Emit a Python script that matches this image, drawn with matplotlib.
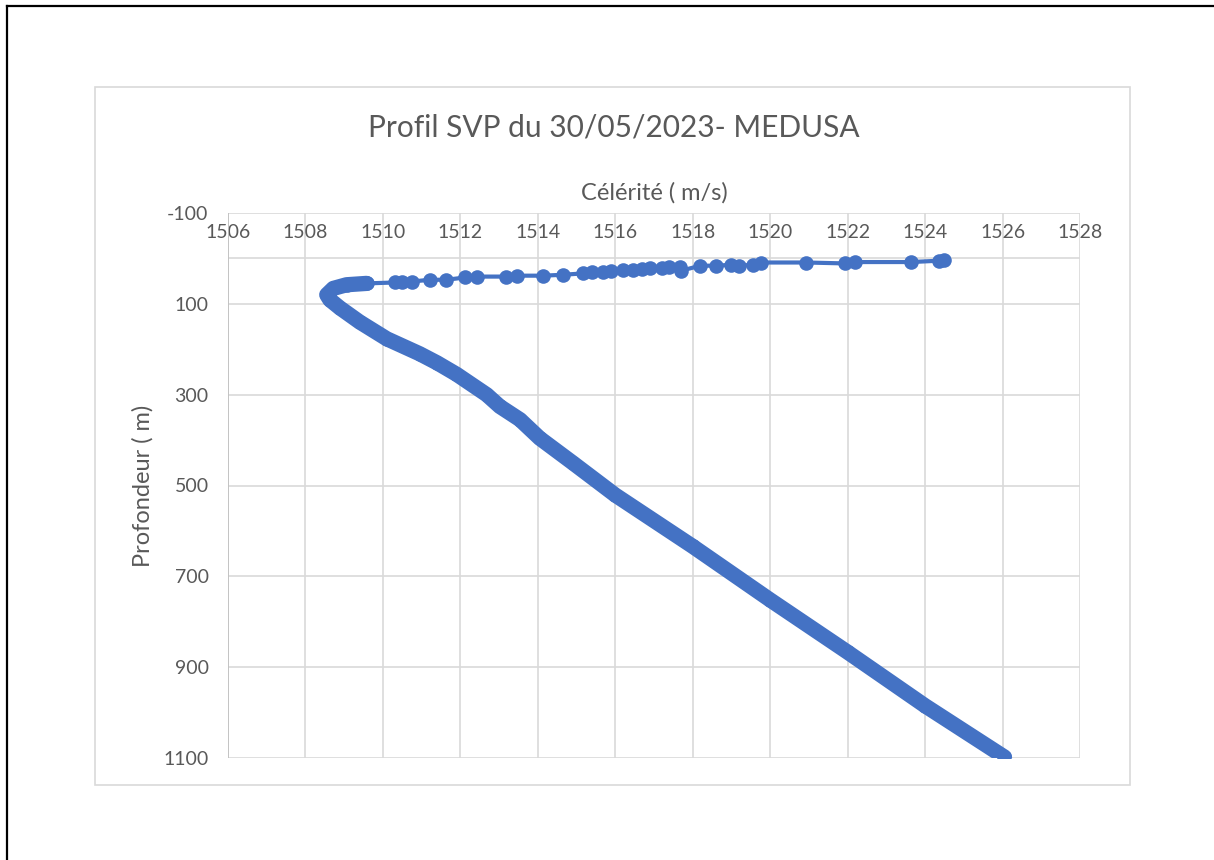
import matplotlib
matplotlib.use("Agg")
import matplotlib.pyplot as plt
from matplotlib.lines import Line2D
from matplotlib.patches import Rectangle

plt.rcParams['font.family'] = ['Lato', 'DejaVu Sans']
plt.rcParams['axes.unicode_minus'] = False

# surface layer: individual casts, spread out
surface_speed = [1524.50, 1524.37, 1523.64, 1522.18, 1521.92, 1520.93, 1519.77, 1519.55,
                 1519.20, 1519.00, 1518.60, 1518.20, 1517.70, 1517.66, 1517.40, 1517.20,
                 1516.90, 1516.70, 1516.46, 1516.20, 1515.90, 1515.69, 1515.40, 1515.17,
                 1514.65, 1514.14, 1513.45, 1513.19, 1512.42, 1512.12, 1511.64, 1511.21,
                 1510.74, 1510.50, 1510.31]
surface_depth = [3, 5, 8, 8, 11, 9, 9, 14,
                 16, 14, 16, 16, 27, 19, 20, 21,
                 22, 23, 25, 25, 27, 29, 31, 33,
                 36, 38, 38, 40, 40, 42, 47, 47,
                 51, 52, 53]

# below the thermocline: dense points, drawn as a continuous band
deep_speed = [1509.58, 1509.06, 1508.72, 1508.55, 1508.63, 1508.89, 1509.40, 1510.10,
              1510.95, 1511.40, 1511.90, 1512.68, 1513.02, 1513.54, 1514.05, 1514.90,
              1516.00, 1518.00, 1520.00, 1522.00, 1524.00, 1526.05]
deep_depth = [55, 58, 66, 80, 91, 109, 140, 177,
              210, 230, 255, 300, 326, 355, 396, 450,
              521, 634, 752, 867, 985, 1098]

x_ticks = list(range(1506, 1529, 2))
y_ticks = list(range(-100, 1101, 200))

blue = '#4472C4'
grid = '#D9D9D9'
txt = '#595959'

fig = plt.figure(figsize=(12.14, 8.60), dpi=100)

# outer frame (top and left edges visible)
fig.add_artist(Line2D([7/1214, 7/1214], [0, 1 - 6/860], color='black', lw=1.6))
fig.add_artist(Line2D([7/1214, 1], [1 - 6/860, 1 - 6/860], color='black', lw=1.6))
# chart area border
fig.add_artist(Rectangle((95/1214, 1 - 785/860), (1130 - 95)/1214, (785 - 87)/860,
                         transform=fig.transFigure, fill=False, ec=grid, lw=1.2))

ax = fig.add_axes([228/1214, 1 - 758/860, (1080 - 228)/1214, (758 - 213)/860])
ax.set_xlim(1506, 1528)
ax.set_ylim(1100, -100)
ax.set_xticks(x_ticks)
ax.set_yticks(y_ticks)
ax.grid(True, color=grid, lw=1.2)
ax.set_axisbelow(True)
for s in ax.spines.values():
    s.set_visible(False)
ax.axhline(0, color=grid, lw=1.2, zorder=1)
ax.axvline(1506, color='#BFBFBF', lw=1.2, zorder=1)

ax.tick_params(axis='x', top=False, bottom=False, labeltop=True, labelbottom=False,
               pad=-20, labelsize=14, labelcolor=txt, length=0)
ax.tick_params(axis='y', left=False, labelsize=14, labelcolor=txt, length=0, pad=14)

all_speed = surface_speed + deep_speed
all_depth = surface_depth + deep_depth
ax.plot(all_speed, all_depth, color=blue, lw=3, zorder=3)
ax.plot(deep_speed, deep_depth, color=blue, lw=11, solid_capstyle='round',
        solid_joinstyle='round', zorder=3)
ax.plot(all_speed, all_depth, 'o', color=blue, ms=10.5, mew=0, zorder=4)

ax.set_xlabel('Célérité ( m/s)', fontsize=17, color=txt)
ax.xaxis.set_label_position('top')
ax.xaxis.set_label_coords(0.5, 1 + 20/545)
ax.xaxis.label.set_va('center')
ax.set_ylabel('Profondeur ( m)', fontsize=17, color=txt)
ax.yaxis.set_label_coords((143 - 228)/852, 0.5)
ax.yaxis.label.set_va('center')

fig.text(614/1214, 1 - 128/860, 'Profil SVP du 30/05/2023- MEDUSA', fontsize=21.5,
         color=txt, ha='center', va='center')

fig.savefig('out.png', dpi=100, facecolor='white')
